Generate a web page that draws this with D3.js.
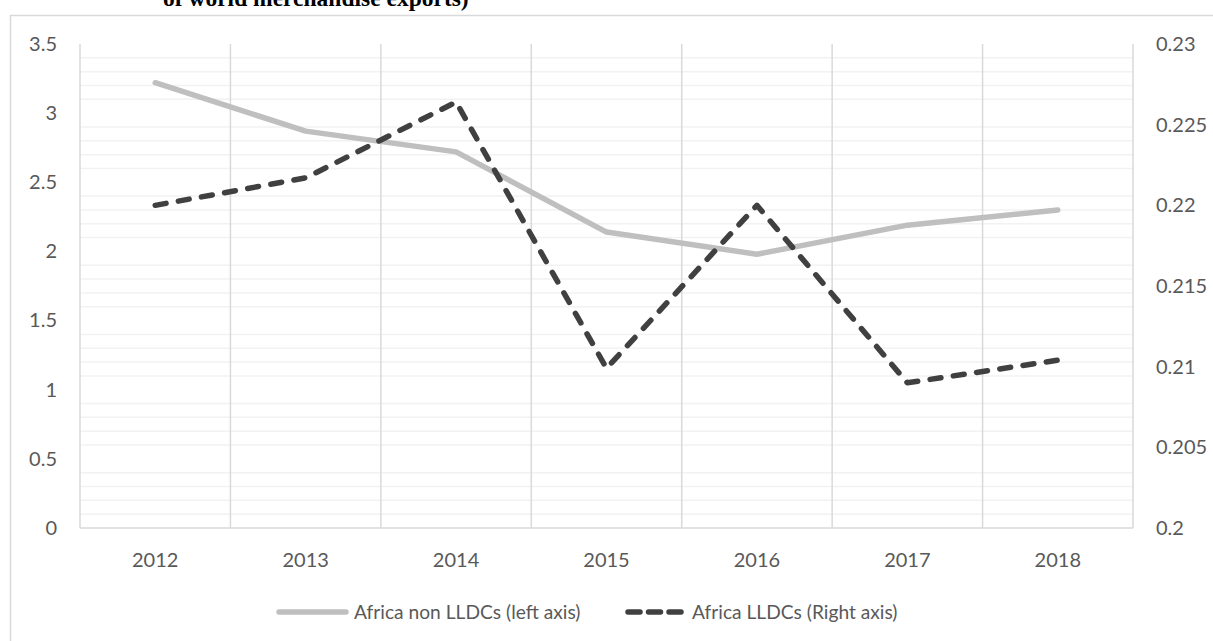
<!DOCTYPE html>
<html>
<head>
<meta charset="utf-8">
<script src="https://cdn.jsdelivr.net/npm/d3@7"></script>
<style>
  html, body { margin: 0; padding: 0; background: #fff; }
  svg { display: block; }
  text { font-family: Lato, "Open Sans", sans-serif; fill: #595959; }
</style>
</head>
<body>
<script>
// ---- data ----
const years = ["2012", "2013", "2014", "2015", "2016", "2017", "2018"];
const nonLLDCs = [3.22, 2.87, 2.72, 2.14, 1.98, 2.19, 2.30];
const lldcs = [0.2200, 0.2217, 0.2264, 0.2099, 0.2200, 0.2090, 0.2104];
const leftTicks = [0, 0.5, 1, 1.5, 2, 2.5, 3, 3.5];
const leftTickLabels = ["0", "0.5", "1", "1.5", "2", "2.5", "3", "3.5"];
const rightTicks = [0.2, 0.205, 0.21, 0.215, 0.22, 0.225, 0.23];
const rightTickLabels = ["0.2", "0.205", "0.21", "0.215", "0.22", "0.225", "0.23"];
const seriesNames = ["Africa non LLDCs (left axis)", "Africa LLDCs (Right axis)"];
const titleText = "of world merchandise exports)";

// ---- layout ----
const W = 1213, H = 641;
const plot = { left: 80, right: 1133, top: 44, bottom: 528 };

const svg = d3.select("body").append("svg").attr("width", W).attr("height", H);

// title fragment (cut off at top, as in the reference)
svg.append("text")
  .attr("x", 163).attr("y", 5.5)
  .style("font-family", "'Liberation Serif', 'Times New Roman', serif")
  .style("font-weight", "bold")
  .style("font-size", "23.5px")
  .style("fill", "#000")
  .text(titleText);

// chart area border
svg.append("rect")
  .attr("x", 10.5).attr("y", 15.5)
  .attr("width", W + 20).attr("height", H + 20)
  .attr("fill", "none").attr("stroke", "#D9D9D9").attr("stroke-width", 1.5);

const x = d3.scaleBand().domain(years).range([plot.left, plot.right]).padding(0);
const yL = d3.scaleLinear().domain([0, 3.5]).range([plot.bottom, plot.top]);
const yR = d3.scaleLinear().domain([0.2, 0.23]).range([plot.bottom, plot.top]);

// minor horizontal gridlines (every 0.1, skipping major values)
const minor = d3.range(1, 35).map(i => i / 10).filter(v => Math.round(v * 10) % 5 !== 0);
svg.append("g").selectAll("line").data(minor).join("line")
  .attr("x1", plot.left).attr("x2", plot.right)
  .attr("y1", d => yL(d)).attr("y2", d => yL(d))
  .attr("stroke", "#F2F2F2").attr("stroke-width", 1.5);

// vertical gridlines at category boundaries
const bounds = years.map(d => x(d)).concat([x(years[years.length - 1]) + x.bandwidth()]);
svg.append("g").selectAll("line").data(bounds).join("line")
  .attr("x1", d => d).attr("x2", d => d)
  .attr("y1", plot.top).attr("y2", plot.bottom)
  .attr("stroke", "#D9D9D9").attr("stroke-width", 1.5);

// bottom axis line
svg.append("line")
  .attr("x1", plot.left).attr("x2", plot.right)
  .attr("y1", plot.bottom).attr("y2", plot.bottom)
  .attr("stroke", "#D9D9D9").attr("stroke-width", 1.5);

const fs = "20px";

// left axis
const gL = svg.append("g").attr("transform", `translate(${plot.left},0)`)
  .call(d3.axisLeft(yL).tickValues(leftTicks).tickSize(0).tickPadding(23)
    .tickFormat((d, i) => leftTickLabels[i]));
gL.select(".domain").remove();
gL.selectAll("text").style("font-size", fs).style("font-family", null).attr("fill", null);

// right axis
const gR = svg.append("g").attr("transform", `translate(${plot.right},0)`)
  .call(d3.axisRight(yR).tickValues(rightTicks).tickSize(0).tickPadding(23)
    .tickFormat((d, i) => rightTickLabels[i]));
gR.select(".domain").remove();
gR.selectAll("text").style("font-size", fs).style("font-family", null).attr("fill", null);

// bottom axis
const gB = svg.append("g").attr("transform", `translate(0,${plot.bottom})`)
  .call(d3.axisBottom(x).tickSize(0).tickPadding(0));
gB.select(".domain").remove();
gB.selectAll("text").style("font-size", fs).style("font-family", null).attr("fill", null)
  .attr("y", 32).attr("dy", "0.35em");

// lines
const cx = d => x(d) + x.bandwidth() / 2;
const lineL = d3.line().x((d, i) => cx(years[i])).y(d => yL(d));
const lineR = d3.line().x((d, i) => cx(years[i])).y(d => yR(d));

svg.append("path").datum(nonLLDCs)
  .attr("d", lineL).attr("fill", "none")
  .attr("stroke", "#BFBFBF").attr("stroke-width", 5.5)
  .attr("stroke-linecap", "round").attr("stroke-linejoin", "round");

svg.append("path").datum(lldcs)
  .attr("d", lineR).attr("fill", "none")
  .attr("stroke", "#404040").attr("stroke-width", 5.5)
  .attr("stroke-dasharray", "11 12.5")
  .attr("stroke-linecap", "round").attr("stroke-linejoin", "round");

// legend
const ly = 612;
const lfs = "19.2px";
const leg = svg.append("g");
leg.append("line").attr("x1", 279).attr("x2", 346).attr("y1", ly).attr("y2", ly)
  .attr("stroke", "#BFBFBF").attr("stroke-width", 5.5).attr("stroke-linecap", "round");
leg.append("text").attr("x", 354).attr("y", ly).attr("dy", "0.35em")
  .style("font-size", lfs).text(seriesNames[0]);
leg.append("line").attr("x1", 628).attr("x2", 681).attr("y1", ly).attr("y2", ly)
  .attr("stroke", "#404040").attr("stroke-width", 5.5)
  .attr("stroke-dasharray", "12 8.5").attr("stroke-linecap", "round");
leg.append("text").attr("x", 692).attr("y", ly).attr("dy", "0.35em")
  .style("font-size", lfs).text(seriesNames[1]);
</script>
</body>
</html>
